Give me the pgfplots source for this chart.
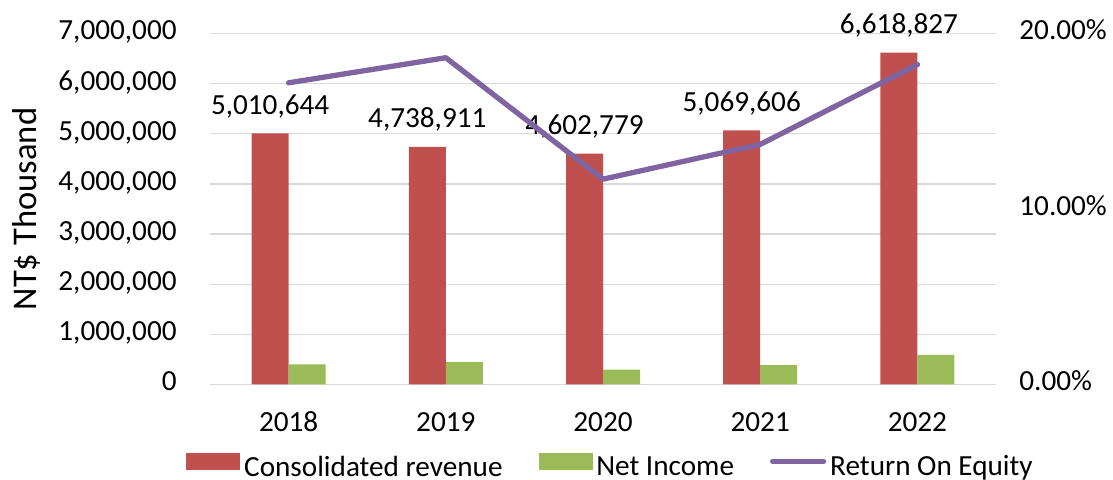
\documentclass[border=0pt]{standalone}
\usepackage{pgfplots}
\pgfplotsset{compat=1.18}
\usepackage{fontspec}
\setmainfont{Carlito}
\definecolor{revred}{HTML}{C0504D}
\definecolor{nigreen}{HTML}{9BBB59}
\definecolor{roepurple}{HTML}{8064A2}
\definecolor{gridgray}{HTML}{D9D9D9}
\newcommand{\tickfont}{\fontsize{14.6pt}{17pt}\selectfont}
\begin{document}
\begin{tikzpicture}
\useasboundingbox (-105pt,-47.75pt) rectangle (451.5pt,192.25pt);
\begin{axis}[
  scale only axis,
  width=393pt, height=175.5pt,
  xmin=-0.5, xmax=4.5,
  ymin=0, ymax=7000000,
  scaled y ticks=false,
  ytick={0,1000000,2000000,3000000,4000000,5000000,6000000,7000000},
  yticklabels={0,{1,000,000},{2,000,000},{3,000,000},{4,000,000},{5,000,000},{6,000,000},{7,000,000}},
  xtick={0,1,2,3,4},
  xticklabels={2018,2019,2020,2021,2022},
  major tick length=0pt,
  axis line style={draw=none},
  ymajorgrids,
  major grid style={gridgray, line width=0.7pt},
  every tick label/.append style={font=\tickfont},
  yticklabel style={anchor=base east, inner sep=0pt, xshift=-16.5pt, yshift=-0.32em},
  xticklabel style={anchor=base, inner sep=0pt, yshift=-23.75pt},
  ylabel={NT\$ Thousand},
  every axis y label/.style={at={(axis description cs:-0.2204,0.5)}, anchor=base, rotate=90, font=\fontsize{17.3pt}{20pt}\selectfont},
  ybar=0pt,
  bar width=18.5pt,
  clip=false,
]
\addplot[fill=revred, draw=none, bar shift=-9.25pt,
  point meta=explicit symbolic,
  nodes near coords,
  every node near coord/.append style={font=\tickfont, anchor=base, inner sep=0pt, yshift=9.5pt, black}]
  coordinates {
  (0,5010644) [5,010,644]
  (1,4738911) [4,738,911]
  (2,4602779) [4,602,779]
  (3,5069606) [5,069,606]
  (4,6618827) [6,618,827]
  };
\addplot[fill=nigreen, draw=none, bar shift=9.25pt]
  coordinates {
  (0,401000)
  (1,449000)
  (2,299000)
  (3,388000)
  (4,592000)
  };
\end{axis}
\begin{axis}[
  scale only axis,
  width=393pt, height=175.5pt,
  xmin=-0.5, xmax=4.5,
  ymin=0, ymax=0.2,
  axis x line=none,
  axis y line*=right,
  axis line style={draw=none},
  major tick length=0pt,
  ytick={0,0.1,0.2},
  yticklabels={0.00\%,10.00\%,20.00\%},
  every tick label/.append style={font=\tickfont},
  yticklabel style={anchor=base west, inner sep=0pt, xshift=11.5pt, yshift=-0.32em},
  clip=false,
  legend style={at={(axis description cs:0.5096,-0.235)}, anchor=center,
    draw=none, fill=none, inner sep=0pt, font=\tickfont,
    legend columns=-1,
    nodes={inner sep=1pt},
    /tikz/every odd column/.append style={column sep=1pt},
    /tikz/every even column/.append style={column sep=17pt}},
]
\addlegendimage{legend image code/.code={\fill[revred] (0pt,-1pt) rectangle (26.5pt,7pt);}}
\addlegendentry{Consolidated revenue}
\addlegendimage{legend image code/.code={\fill[nigreen] (0pt,-1pt) rectangle (26.5pt,7pt);}}
\addlegendentry{Net Income}
\addlegendimage{legend image code/.code={\draw[roepurple, line width=2.6pt, line cap=round] (1pt,3pt) -- (26.5pt,3pt);}}
\addlegendentry{Return On Equity}
\addplot[roepurple, line width=2.65pt, line join=round, line cap=round, mark=none]
  coordinates {
  (0,0.1719)
  (1,0.1862)
  (2,0.1170)
  (3,0.1368)
  (4,0.1823)
  };
\end{axis}
\end{tikzpicture}
\end{document}
